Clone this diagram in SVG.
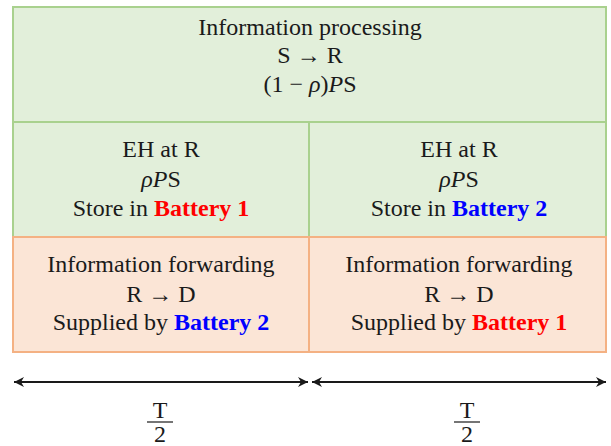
<svg xmlns="http://www.w3.org/2000/svg" width="611" height="446" viewBox="0 0 611 446" font-family="'Liberation Serif', 'Times New Roman', Times, 'DejaVu Serif', serif">
  <style>
    text { font-family: 'Liberation Serif', 'Times New Roman', Times, 'DejaVu Serif', serif; font-size: 24px; fill: #1a1a1a; text-anchor: middle; }
    .green { fill: #e2efda; stroke: #a9d18e; stroke-width: 2; }
    .orange { fill: #fbe5d6; stroke: #f4b183; stroke-width: 2; }
    .red { fill: #ff0000; font-weight: bold; }
    .blue { fill: #0000ff; font-weight: bold; }
    .it { font-style: italic; }
    .dim { stroke: #1a1a1a; stroke-width: 2; fill: none; }
    .bar { stroke: #1a1a1a; stroke-width: 1.2; }
  </style>
  <defs>
    <marker id="head" viewBox="0 0 10 10" refX="10" refY="5" markerWidth="5" markerHeight="5" orient="auto-start-reverse" markerUnits="strokeWidth">
      <path d="M0,0 L10,5 L0,10 L3,5 Z" fill="#1a1a1a"/>
    </marker>
  </defs>

  <!-- first phase: information processing, S to R -->
  <g id="processing">
    <rect class="green" x="13" y="7" width="593" height="115"/>
    <text x="310" y="35">Information processing</text>
    <text x="310" y="63">S → R</text>
    <text x="310" y="92">(1 − <tspan class="it">ρ</tspan>)<tspan class="it">P</tspan>S</text>
  </g>

  <!-- energy harvesting at the relay -->
  <g id="eh-left">
    <rect class="green" x="13" y="122" width="296" height="115"/>
    <text x="161" y="157">EH at R</text>
    <text x="161" y="187"><tspan class="it">ρP</tspan>S</text>
    <text x="161" y="216">Store in <tspan class="red">Battery 1</tspan></text>
  </g>
  <g id="eh-right">
    <rect class="green" x="309" y="122" width="297" height="115"/>
    <text x="459" y="157">EH at R</text>
    <text x="459" y="187"><tspan class="it">ρP</tspan>S</text>
    <text x="459" y="216">Store in <tspan class="blue">Battery 2</tspan></text>
  </g>

  <!-- second phase: information forwarding, R to D -->
  <g id="fwd-left">
    <rect class="orange" x="13" y="237" width="296" height="115"/>
    <text x="161" y="272">Information forwarding</text>
    <text x="161" y="302">R → D</text>
    <text x="161" y="330">Supplied by <tspan class="blue">Battery 2</tspan></text>
  </g>
  <g id="fwd-right">
    <rect class="orange" x="309" y="237" width="297" height="115"/>
    <text x="459" y="272">Information forwarding</text>
    <text x="459" y="302">R → D</text>
    <text x="459" y="330">Supplied by <tspan class="red">Battery 1</tspan></text>
  </g>

  <!-- duration markers -->
  <g id="connectors">
    <line class="dim" x1="14" y1="382" x2="308" y2="382" marker-start="url(#head)" marker-end="url(#head)"/>
    <line class="dim" x1="312" y1="382" x2="606" y2="382" marker-start="url(#head)" marker-end="url(#head)"/>
  </g>

  <g id="half-left">
    <text x="160" y="418">T</text>
    <line class="bar" x1="147" y1="422" x2="173" y2="422"/>
    <text x="160" y="442">2</text>
  </g>
  <g id="half-right">
    <text x="467" y="418">T</text>
    <line class="bar" x1="454" y1="422" x2="480" y2="422"/>
    <text x="467" y="442">2</text>
  </g>
</svg>
